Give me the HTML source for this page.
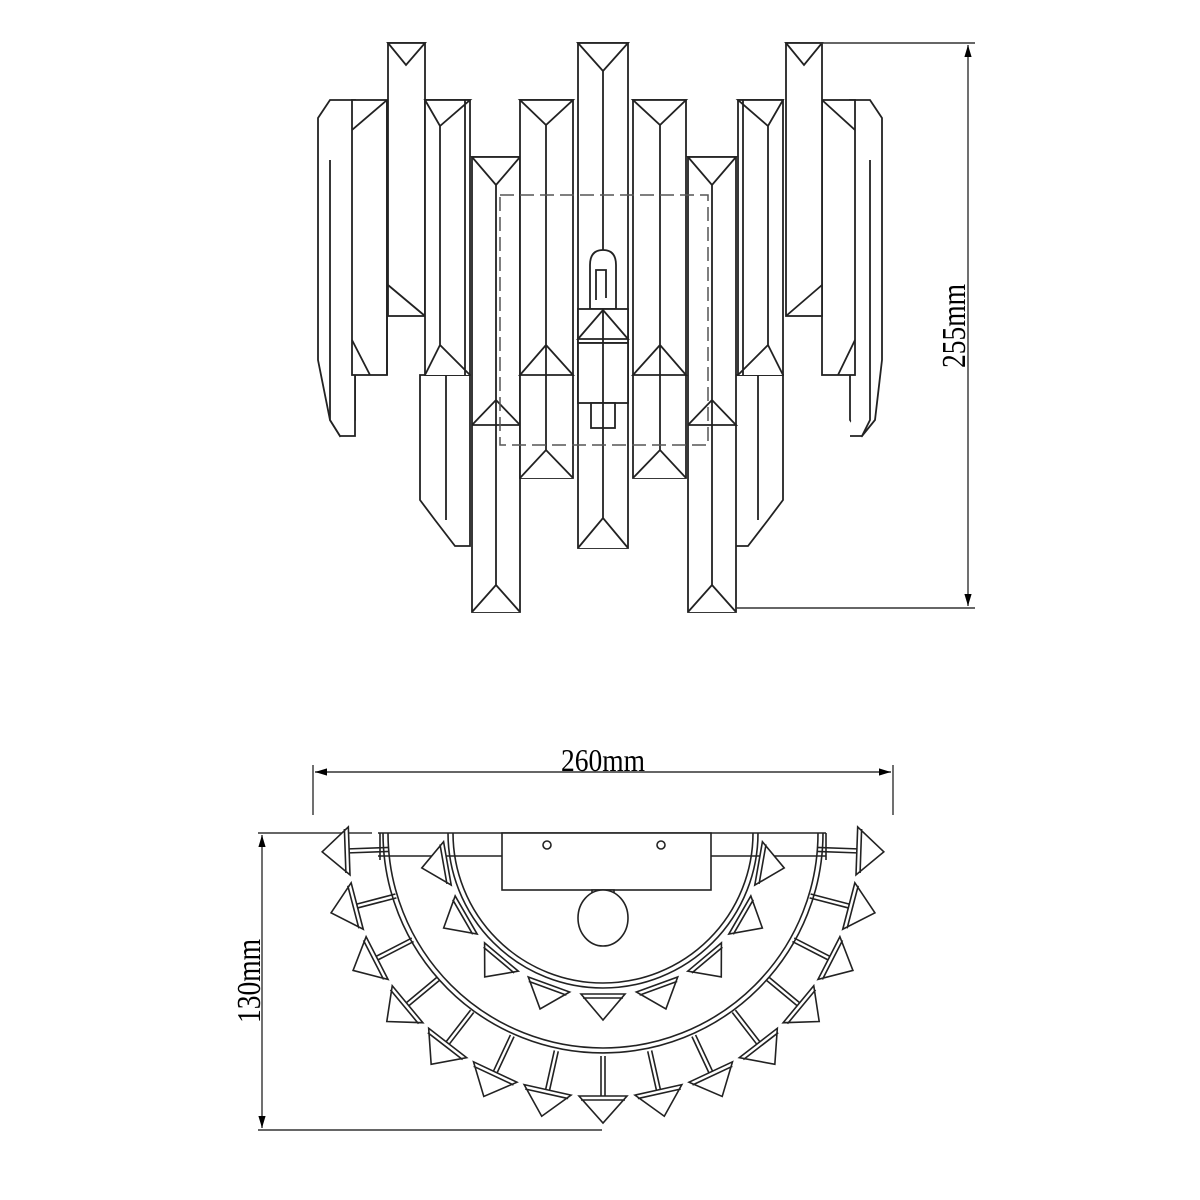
<!DOCTYPE html>
<html><head><meta charset="utf-8"><style>html,body{margin:0;padding:0;background:#fff}svg{display:block}</style></head>
<body>
<svg width="1200" height="1200" viewBox="0 0 1200 1200" xmlns="http://www.w3.org/2000/svg" font-family="Liberation Serif, serif">
<defs>
<marker id="ar" viewBox="0 0 10 10" refX="10" refY="5" markerWidth="12" markerHeight="12" orient="auto-start-reverse" markerUnits="userSpaceOnUse"><path d="M0,2 L10,5 L0,8z" fill="#000"/></marker>
</defs>
<g fill="#fff" stroke="#222" stroke-width="1.8">
<path d="M318,118 L330,100 L355,100 L355,420 L340,436 L330,420 L318,360 Z"/>
<path d="M330,160 L330,420 L340,436 L355,436 L355,160"/>
<path d="M882,118 L870,100 L850,100 L850,420 L862,436 L875,420 L882,360 Z"/>
<path d="M870,160 L870,420 L862,436 L850,436"/>
<g><rect x="352" y="100" width="35" height="275"/><path d="M352,130 L387,100 M352,340 L370,375 M387,100 L387,375"/></g>
<g><rect x="822" y="100" width="33" height="275"/><path d="M822,100 L855,130 M855,340 L838,375"/></g>
<g><rect x="388" y="43" width="37" height="273"/><path d="M388,43 L425,43 L406,65 Z M388,285 L425,316"/></g>
<g><rect x="786" y="43" width="36" height="273"/><path d="M786,43 L822,43 L804,65 Z M822,285 L786,316"/></g>
<g><path d="M420,375 L470,375 L470,546 L455,546 L435,520 L420,500 Z"/><path d="M446,375 L446,520"/></g>
<g><path d="M733,375 L783,375 L783,500 L768,520 L748,546 L733,546 Z"/><path d="M758,375 L758,520"/></g>
<g><rect x="425" y="100" width="45" height="275"/><path d="M425,100 L470,100 L440,126 Z M440,126 L440,345 M425,375 L440,345 L470,375 M465,100 L465,375"/></g>
<g><rect x="738" y="100" width="45" height="275"/><path d="M738,100 L783,100 L768,126 Z M768,126 L768,345 M738,375 L768,345 L783,375 M743,100 L743,375"/></g>
<g><rect x="472" y="157" width="48" height="455"/><path d="M472,157 L520,157 L496,185 Z M496,185 L496,585 M472,612 L496,585 L520,612 M472,425 L496,400 L520,425 L472,425"/></g>
<g><rect x="688" y="157" width="48" height="455"/><path d="M688,157 L736,157 L712,185 Z M712,185 L712,585 M688,612 L712,585 L736,612 M688,425 L712,400 L736,425 L688,425"/></g>
<g><rect x="520" y="100" width="53" height="378"/><path d="M520,100 L573,100 L546,125 Z M546,125 L546,450 M520,375 L546,345 L573,375 Z M520,478 L546,450 L573,478"/></g>
<g><rect x="633" y="100" width="53" height="378"/><path d="M633,100 L686,100 L660,125 Z M660,125 L660,450 M633,375 L660,345 L686,375 Z M633,478 L660,450 L686,478"/></g>
<g><rect x="578" y="43" width="50" height="505"/><path d="M578,43 L628,43 L603,71 Z M603,71 L603,518 M578,548 L603,518 L628,548"/></g>
<path d="M590,309 L590,265 Q590,250 603,250 Q616,250 616,265 L616,309 Z"/>
<path d="M596,300 L596,270 L606,270 L606,298"/>
<rect x="578" y="309" width="50" height="34"/>
<path d="M578,339 L603,310 L628,339 Z"/>
<rect x="578" y="343" width="50" height="60"/>
<rect x="591" y="403" width="24" height="25"/>
<path d="M603,309 L603,428"/>
</g>
<rect x="500" y="195" width="208" height="250" fill="none" stroke="#555" stroke-width="1.5" stroke-dasharray="14,6"/>
<g stroke="#333" stroke-width="1.4" fill="none">
<path d="M800,43 L975,43 M736,608 L975,608"/>
<path d="M968,45 L968,606" marker-start="url(#ar)" marker-end="url(#ar)"/>
</g>
<text transform="translate(965,368) rotate(-90)" font-size="34" textLength="84" lengthAdjust="spacingAndGlyphs">255mm</text>

<g stroke="#333" stroke-width="1.4" fill="none">
<path d="M313,765 L313,815 M893,765 L893,815"/>
<path d="M315,772 L891,772" marker-start="url(#ar)" marker-end="url(#ar)"/>
<path d="M258,833 L372,833 M258,1130 L602,1130"/>
<path d="M262,835 L262,1128" marker-start="url(#ar)" marker-end="url(#ar)"/>
</g>
<text x="561" y="771" font-size="32" textLength="84" lengthAdjust="spacingAndGlyphs">260mm</text>
<text transform="translate(260,1023) rotate(-90)" font-size="34" textLength="84" lengthAdjust="spacingAndGlyphs">130mm</text>

<g stroke="#222" stroke-width="1.6" fill="#fff">
<path d="M378,833 L826,833 M378,856 L826,856" fill="none"/>
<rect x="502" y="833" width="209" height="57"/>
<circle cx="547" cy="845" r="4"/><circle cx="661" cy="845" r="4"/>
<rect x="592" y="890" width="22" height="14"/>
<ellipse cx="603" cy="918" rx="25" ry="28"/>
<path d="M448,833 A155,155 0 0 0 758,833" fill="none"/>
<path d="M453,833 A150,150 0 0 0 753,833" fill="none"/>
<path d="M383,833 A220,220 0 0 0 823,833" fill="none"/>
<path d="M388,833 A215,215 0 0 0 818,833" fill="none"/>
<path d="M380,833 L380,860 M826,833 L826,860" fill="none"/>
</g>
<g stroke="#222" stroke-width="1.6" fill="#fff">
<g transform="translate(603,836)">
<g transform="rotate(80)"><path d="M-22,158 L22,158 L0,184 Z M-20,162 L20,162"/></g>
<g transform="rotate(60)"><path d="M-22,158 L22,158 L0,184 Z M-20,162 L20,162"/></g>
<g transform="rotate(40)"><path d="M-22,158 L22,158 L0,184 Z M-20,162 L20,162"/></g>
<g transform="rotate(20)"><path d="M-22,158 L22,158 L0,184 Z M-20,162 L20,162"/></g>
<g transform="rotate(0)"><path d="M-22,158 L22,158 L0,184 Z M-20,162 L20,162"/></g>
<g transform="rotate(-20)"><path d="M-22,158 L22,158 L0,184 Z M-20,162 L20,162"/></g>
<g transform="rotate(-40)"><path d="M-22,158 L22,158 L0,184 Z M-20,162 L20,162"/></g>
<g transform="rotate(-60)"><path d="M-22,158 L22,158 L0,184 Z M-20,162 L20,162"/></g>
<g transform="rotate(-80)"><path d="M-22,158 L22,158 L0,184 Z M-20,162 L20,162"/></g>
</g>
<g transform="translate(603,842)">
<g transform="rotate(88)"><path d="M-2,214 L-2,254 M2,214 L2,254" fill="none"/><path d="M-24,254 L24,254 L0,281 Z M-22,258 L22,258"/></g>
<g transform="rotate(75.4)"><path d="M-2,214 L-2,254 M2,214 L2,254" fill="none"/><path d="M-24,254 L24,254 L0,281 Z M-22,258 L22,258"/></g>
<g transform="rotate(62.8)"><path d="M-2,214 L-2,254 M2,214 L2,254" fill="none"/><path d="M-24,254 L24,254 L0,281 Z M-22,258 L22,258"/></g>
<g transform="rotate(50.3)"><path d="M-2,214 L-2,254 M2,214 L2,254" fill="none"/><path d="M-24,254 L24,254 L0,281 Z M-22,258 L22,258"/></g>
<g transform="rotate(37.7)"><path d="M-2,214 L-2,254 M2,214 L2,254" fill="none"/><path d="M-24,254 L24,254 L0,281 Z M-22,258 L22,258"/></g>
<g transform="rotate(25.1)"><path d="M-2,214 L-2,254 M2,214 L2,254" fill="none"/><path d="M-24,254 L24,254 L0,281 Z M-22,258 L22,258"/></g>
<g transform="rotate(12.6)"><path d="M-2,214 L-2,254 M2,214 L2,254" fill="none"/><path d="M-24,254 L24,254 L0,281 Z M-22,258 L22,258"/></g>
<g transform="rotate(0)"><path d="M-2,214 L-2,254 M2,214 L2,254" fill="none"/><path d="M-24,254 L24,254 L0,281 Z M-22,258 L22,258"/></g>
<g transform="rotate(-12.6)"><path d="M-2,214 L-2,254 M2,214 L2,254" fill="none"/><path d="M-24,254 L24,254 L0,281 Z M-22,258 L22,258"/></g>
<g transform="rotate(-25.1)"><path d="M-2,214 L-2,254 M2,214 L2,254" fill="none"/><path d="M-24,254 L24,254 L0,281 Z M-22,258 L22,258"/></g>
<g transform="rotate(-37.7)"><path d="M-2,214 L-2,254 M2,214 L2,254" fill="none"/><path d="M-24,254 L24,254 L0,281 Z M-22,258 L22,258"/></g>
<g transform="rotate(-50.3)"><path d="M-2,214 L-2,254 M2,214 L2,254" fill="none"/><path d="M-24,254 L24,254 L0,281 Z M-22,258 L22,258"/></g>
<g transform="rotate(-62.8)"><path d="M-2,214 L-2,254 M2,214 L2,254" fill="none"/><path d="M-24,254 L24,254 L0,281 Z M-22,258 L22,258"/></g>
<g transform="rotate(-75.4)"><path d="M-2,214 L-2,254 M2,214 L2,254" fill="none"/><path d="M-24,254 L24,254 L0,281 Z M-22,258 L22,258"/></g>
<g transform="rotate(-88)"><path d="M-2,214 L-2,254 M2,214 L2,254" fill="none"/><path d="M-24,254 L24,254 L0,281 Z M-22,258 L22,258"/></g>
</g>
</g>
</svg>
</body></html>
